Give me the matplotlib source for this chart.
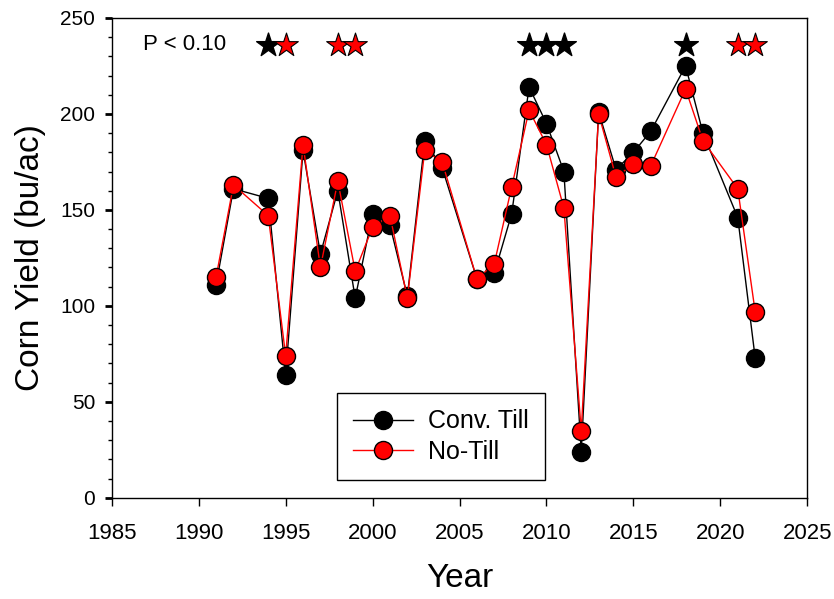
import matplotlib.pyplot as plt
from matplotlib.ticker import MultipleLocator

plt.rcParams['font.family'] = ['Liberation Sans', 'DejaVu Sans']

# yields (bu/ac)
years = [1991, 1992, 1994, 1995, 1996, 1997, 1998, 1999, 2000, 2001, 2002,
         2003, 2004, 2006, 2007, 2008, 2009, 2010, 2011, 2012, 2013, 2014,
         2015, 2016, 2018, 2019, 2021, 2022]
conv_till = [111, 161, 156, 64, 181, 127, 160, 104, 148, 142, 105,
             186, 172, 114, 117, 148, 214, 195, 170, 24, 201, 171,
             180, 191, 225, 190, 146, 73]
no_till = [115, 163, 147, 74, 184, 120, 165, 118, 141, 147, 104,
           181, 175, 114, 122, 162, 202, 184, 151, 35, 200, 167,
           174, 173, 213, 186, 161, 97]

# significance stars (P < 0.10): black = conv. till higher, red = no-till higher
star_black = [1994, 2009, 2010, 2011, 2018]
star_red = [1995, 1998, 1999, 2021, 2022]
star_y = 236

fig = plt.figure(figsize=(8.34, 5.99), dpi=100)
ax = fig.add_axes([0.134, 0.169, 0.834, 0.801])

ax.plot(years, conv_till, color='black', lw=1, marker='o', ms=13,
        mfc='black', mec='black', label='Conv. Till', zorder=3)
ax.plot(years, no_till, color='red', lw=1, marker='o', ms=13,
        mfc='red', mec='black', mew=1, label='No-Till', zorder=4)

ax.scatter(star_black, [star_y] * len(star_black), marker='*', s=320,
           color='black', zorder=5, clip_on=False)
ax.scatter(star_red, [star_y] * len(star_red), marker='*', s=320,
           color='red', edgecolors='black', linewidths=0.8, zorder=6,
           clip_on=False)
ax.text(1986.8, star_y, 'P < 0.10', fontsize=16, va='center', ha='left')

ax.set_xlim(1985, 2025)
ax.set_ylim(0, 250)
ax.xaxis.set_major_locator(MultipleLocator(5))
ax.yaxis.set_major_locator(MultipleLocator(50))
ax.yaxis.set_minor_locator(MultipleLocator(10))
ax.tick_params(axis='x', which='major', direction='out', length=6,
               width=1, labelsize=16, pad=12)
ax.tick_params(axis='y', which='major', direction='out', length=5,
               width=2, labelsize=15, pad=7)
ax.tick_params(axis='y', which='minor', direction='out', length=3, width=1)
for s in ax.spines.values():
    s.set_linewidth(1)

ax.set_xlabel('Year', fontsize=24, labelpad=14)
ax.set_ylabel('Corn Yield (bu/ac)', fontsize=24, labelpad=10)

leg = ax.legend(loc='lower left', bbox_to_anchor=(0.324, 0.0375),
                borderaxespad=0, fontsize=18, frameon=True, fancybox=False,
                edgecolor='black', framealpha=1, borderpad=0.65,
                labelspacing=0.25, handlelength=2.4, handletextpad=0.6)
leg.get_frame().set_linewidth(1)

fig.savefig('out.png', dpi=100)
